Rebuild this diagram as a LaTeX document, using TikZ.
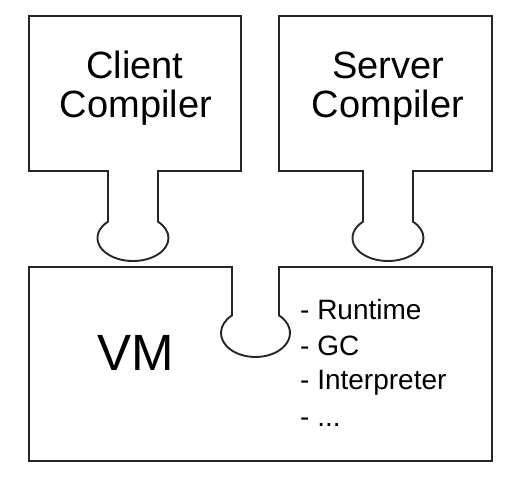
\documentclass[tikz,border=0pt]{standalone}
\usepackage{fontspec}
\setmainfont{Liberation Sans}
\begin{document}
\begin{tikzpicture}[x=1pt,y=1pt,
  part/.style={draw=black!85, line width=1.9pt, line join=miter},
  big/.style={font=\fontsize{38}{40}\selectfont, inner sep=0pt, anchor=base},
  item/.style={font=\fontsize{28}{30}\selectfont, inner sep=0pt, anchor=base west}]
\useasboundingbox (0,0) rectangle (507,483);
% Client Compiler with plug
\draw[part] (29,467) -- (241,467) -- (241,312) -- (158,312) -- (158,261.3)
  arc[start angle=45.2, end angle=-225.2, x radius=35.5pt, y radius=23pt]
  -- (108,312) -- (29,312) -- cycle;
% Server Compiler with plug
\draw[part] (279,467) -- (492,467) -- (492,312) -- (413,312) -- (413,261.3)
  arc[start angle=45.2, end angle=-225.2, x radius=35.5pt, y radius=23pt]
  -- (363,312) -- (279,312) -- cycle;
% VM with socket
\draw[part] (29,216) -- (232,216) -- (232,167.6)
  arc[start angle=132.9, end angle=407.1, x radius=34.5pt, y radius=24pt]
  -- (279,216) -- (492,216) -- (492,22) -- (29,22) -- cycle;
% texts
\node[big] (client) at (135,404) {Client};
\node[big] (ccomp) at (136,365) {Compiler};
\node[big] (server) at (388,404) {Server};
\node[big] (scomp) at (388,365) {Compiler};
\node[font=\fontsize{51}{53}\selectfont, inner sep=0pt, anchor=base] (vm) at (135.5,113) {VM};
\node[item] (rt) at (300,163) {- Runtime};
\node[item] (gc) at (300,128) {- GC};
\node[item] (ip) at (300,93) {- Interpreter};
\node[item] (etc) at (300,57) {- ...};
\end{tikzpicture}
\end{document}
